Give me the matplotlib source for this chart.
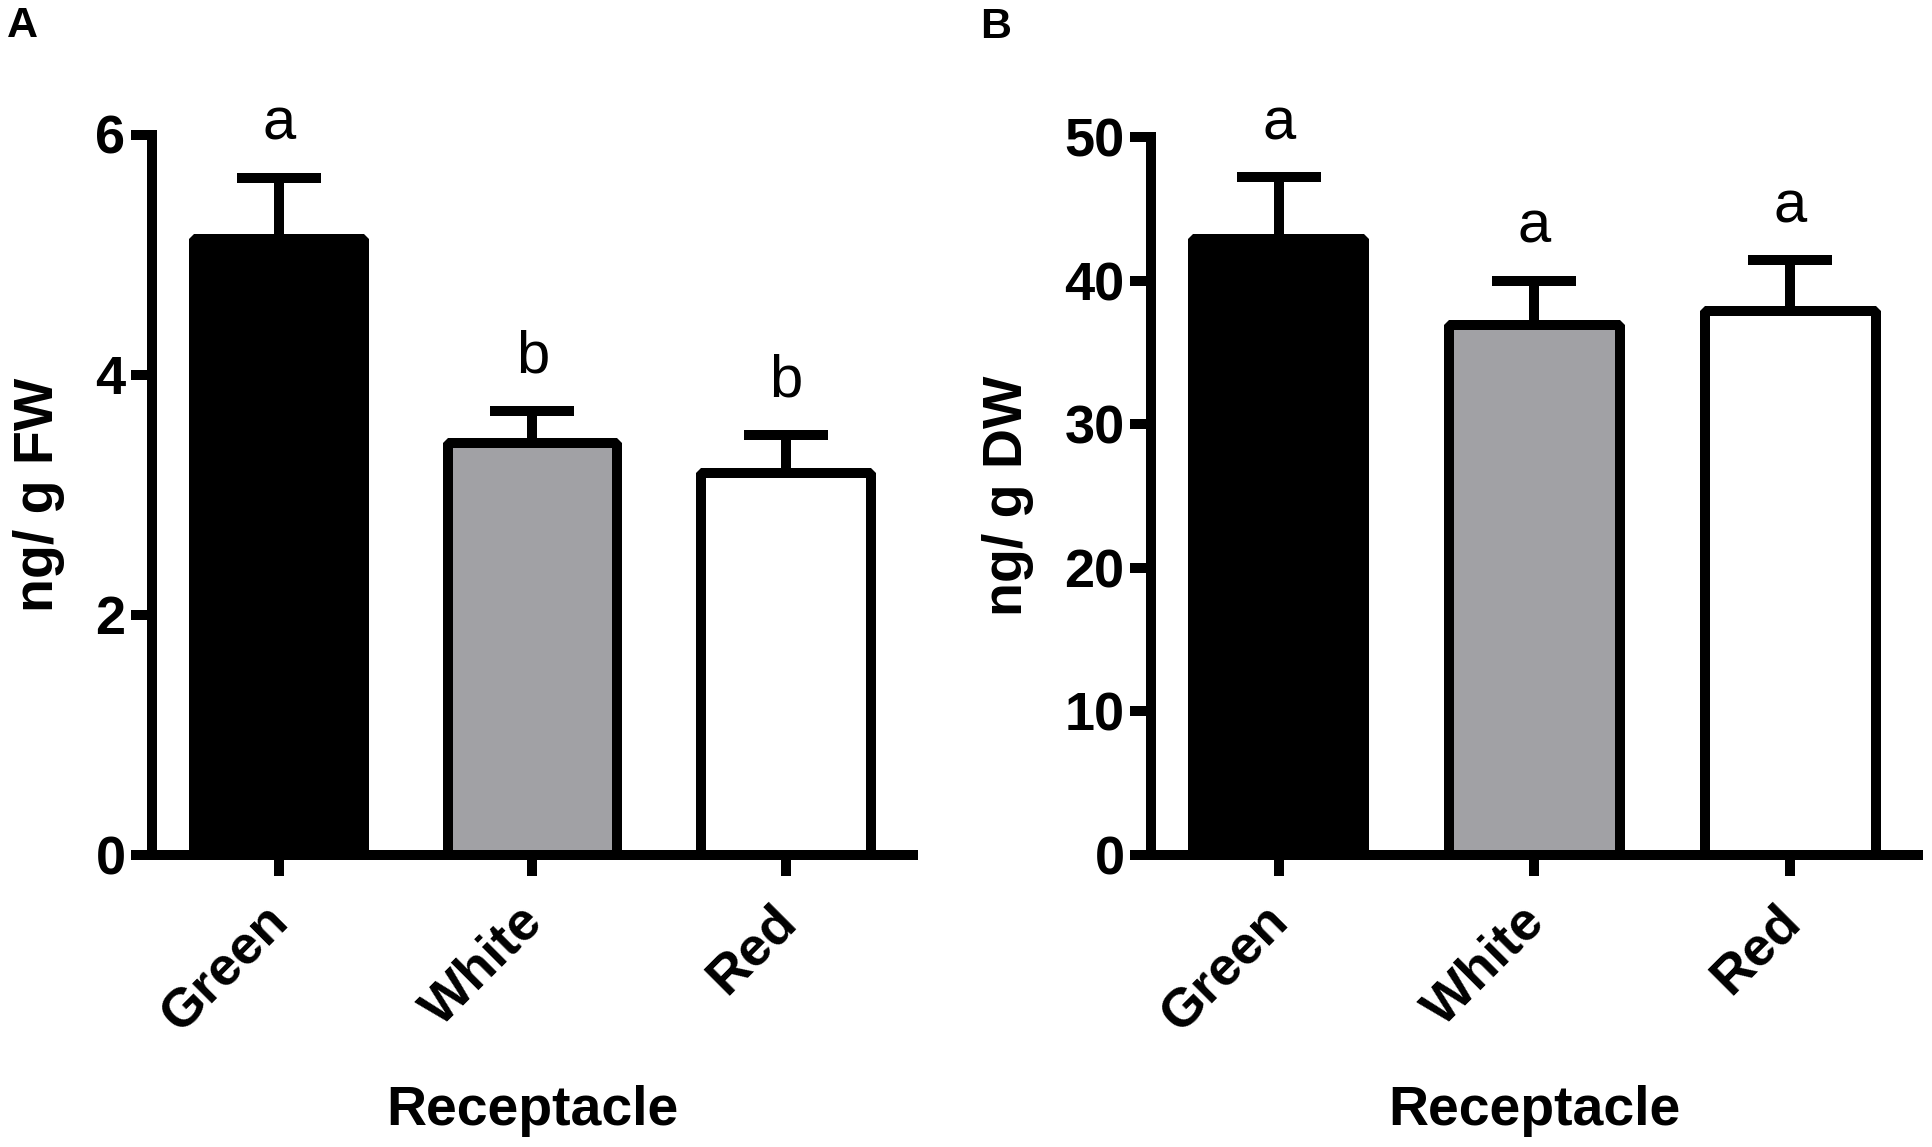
import matplotlib
matplotlib.use('Agg')
import matplotlib.pyplot as plt
from matplotlib import transforms

plt.rcParams['font.family'] = ['Liberation Sans', 'DejaVu Sans']

# data
categories = ['Green', 'White', 'Red']
fw_mean = [5.13, 3.43, 3.18]
fw_err = [0.51, 0.27, 0.32]
fw_letters = ['a', 'b', 'b']
dw_mean = [42.9, 36.9, 37.9]
dw_err = [4.3, 3.1, 3.5]
dw_letters = ['a', 'a', 'a']
bar_colors = ['black', '#a1a1a5', 'white']

W, H = 1933, 1147
fig = plt.figure(figsize=(W / 100, H / 100), dpi=100)

LW = 7.2  # ~10 px lines


def panel(rect, means, errs, letters, ylim, yticks, ylabel, ylab_x):
    ax = fig.add_axes(rect)
    x = list(range(len(categories)))
    ax.bar(x, means, width=0.67, color=bar_colors, edgecolor='black',
           linewidth=LW, zorder=2, joinstyle='bevel')
    ax.errorbar(x, means, yerr=[[0] * len(errs), errs], fmt='none',
                ecolor='black', elinewidth=LW, capsize=30, capthick=LW,
                zorder=1)
    for xi, m, e, t in zip(x, means, errs, letters):
        ax.annotate(t, (xi, m + e), xytext=(0, 27.5), textcoords='offset points',
                    ha='center', va='baseline', fontsize=43)
    ax.set_xlim(-0.5, 2.5)
    ax.set_ylim(*ylim)
    ax.set_yticks(yticks)
    ax.set_xticks(x)
    for s in ['top', 'right']:
        ax.spines[s].set_visible(False)
    for s in ['left', 'bottom']:
        ax.spines[s].set_linewidth(LW)
        ax.spines[s].set_capstyle('projecting')
        ax.spines[s].set_zorder(3)
    ax.tick_params(axis='both', length=15, width=LW, direction='out')
    ax.tick_params(axis='y', pad=4, labelsize=39)
    ax.tick_params(axis='x', pad=34, labelsize=39)
    for lab in ax.get_yticklabels():
        lab.set_fontweight('bold')
    ax.set_xticklabels(categories, rotation=45, ha='right', va='baseline',
                       rotation_mode='anchor', fontweight='bold')
    shift = transforms.ScaledTranslation(0.12, 0, fig.dpi_scale_trans)
    for lab in ax.get_xticklabels():
        lab.set_transform(lab.get_transform() + shift)

    ax.set_ylabel(ylabel, fontsize=40, fontweight='bold', va='baseline')
    ax.yaxis.set_label_coords(ylab_x, 0.5,
                              transform=transforms.blended_transform_factory(fig.transFigure, ax.transAxes))
    ax.set_xlabel('Receptacle', fontsize=40, fontweight='bold', va='baseline')
    ax.xaxis.set_label_coords(0.5, 1 - 1125 / H,
                              transform=transforms.blended_transform_factory(ax.transAxes, fig.transFigure))
    return ax


axA = panel([152 / W, 1 - 855 / H, 761 / W, 720.5 / H], fw_mean, fw_err, fw_letters,
            (0, 6), [0, 2, 4, 6], 'ng/ g FW', 53 / W)
axB = panel([1151 / W, 1 - 855 / H, 767 / W, 718 / H], dw_mean, dw_err, dw_letters,
            (0, 50), [0, 10, 20, 30, 40, 50], 'ng/ g DW', 1022 / W)

fig.text(7 / W, 1 - 37 / H, 'A', fontsize=31, fontweight='bold', va='baseline')
fig.text(980 / W, 1 - 38 / H, 'B', fontsize=31, fontweight='bold', va='baseline')

fig.savefig('out.png', dpi=100)
